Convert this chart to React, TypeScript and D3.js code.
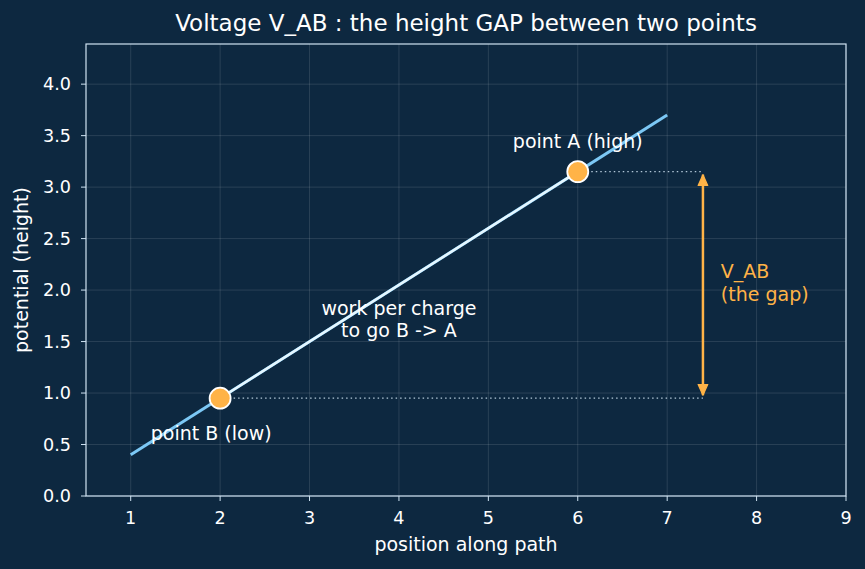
import React from 'react'
import * as d3 from 'd3'

// path of the potential line and the two marked points
const pathX = [1, 7]
const pathY = [0.4, 3.7]
const pointNames = ['B', 'A']
const pointX = [2, 6]
const pointY = [0.95, 3.15]
const gapX = 7.4
const xTicks = [1, 2, 3, 4, 5, 6, 7, 8, 9]
const yTicks = [0, 0.5, 1, 1.5, 2, 2.5, 3, 3.5, 4]

const W = 865
const H = 569
const margin = { top: 44, right: 19, bottom: 73, left: 86 }

const BG = '#0d2840'
const FG = '#ffffff'
const SPINE = '#cfe3f2'
const ORANGE = '#ffb347'
const BLUE = '#7cc8f5'
const FONT = "'DejaVu Sans', sans-serif"

const App = () => {
  const x = d3.scaleLinear().domain([0.5, 9]).range([margin.left, W - margin.right])
  const y = d3.scaleLinear().domain([0, 4.39]).range([H - margin.bottom, margin.top])
  const line = d3.line<[number, number]>().x((d) => x(d[0])).y((d) => y(d[1]))

  const full: [number, number][] = pathX.map((v, i) => [v, pathY[i]])
  const seg: [number, number][] = pointX.map((v, i) => [v, pointY[i]])

  const x0 = margin.left
  const x1 = W - margin.right
  const y0 = H - margin.bottom
  const y1 = margin.top

  return (
    <svg width={W} height={H} style={{ display: 'block', position: 'absolute', left: 0, top: 0 }} fontFamily={FONT}>
      <defs>
        <marker id="headW" viewBox="0 0 10 10" refX="9" refY="5" markerWidth="8" markerHeight="8" orient="auto" markerUnits="userSpaceOnUse">
          <path d="M1,1 L9,5 L1,9" fill="none" stroke="#e6f7ff" strokeWidth={1.6} />
        </marker>
        <marker id="headO" viewBox="0 0 10 10" refX="9" refY="5" markerWidth="13" markerHeight="12" orient="auto-start-reverse" markerUnits="userSpaceOnUse">
          <path d="M0,1 L9,5 L0,9 Z" fill={ORANGE} stroke={ORANGE} strokeWidth={1} strokeLinejoin="round" />
        </marker>
      </defs>
      <rect width={W} height={H} fill={BG} />

      {/* grid */}
      {xTicks.map((t) => (
        <line key={'gx' + t} x1={x(t)} x2={x(t)} y1={y0} y2={y1} stroke="#ffffff" strokeOpacity={0.15} strokeWidth={0.8} />
      ))}
      {yTicks.map((t) => (
        <line key={'gy' + t} x1={x0} x2={x1} y1={y(t)} y2={y(t)} stroke="#ffffff" strokeOpacity={0.15} strokeWidth={0.8} />
      ))}

      {/* full path */}
      <path d={line(full) || ''} fill="none" stroke={BLUE} strokeWidth={3} />
      {/* B -> A segment */}
      <path d={line(seg) || ''} fill="none" stroke="#e6f7ff" strokeWidth={2.5} markerEnd="url(#headW)" />

      {/* dotted level guides */}
      {pointY.map((v, i) => (
        <line key={'lv' + i} x1={x(pointX[i])} x2={x(gapX)} y1={y(v)} y2={y(v)} stroke={SPINE} strokeWidth={1.2} strokeDasharray="1.5 3" opacity={0.85} />
      ))}

      {/* gap arrow */}
      <line x1={x(gapX)} x2={x(gapX)} y1={y(pointY[0]) - 3} y2={y(pointY[1]) + 3} stroke={ORANGE} strokeWidth={2.5} markerStart="url(#headO)" markerEnd="url(#headO)" />

      {/* points */}
      {pointX.map((v, i) => (
        <circle key={pointNames[i]} cx={x(v)} cy={y(pointY[i])} r={10.5} fill={ORANGE} stroke="#ffffff" strokeWidth={1.8} />
      ))}

      {/* annotations */}
      <text x={x(6)} y={y(3.43)} fill={FG} fontSize={19} textAnchor="middle" dominantBaseline="middle">point A (high)</text>
      <text x={x(1.9)} y={y(0.6)} fill={FG} fontSize={19} textAnchor="middle" dominantBaseline="middle">point B (low)</text>
      <text x={x(4)} y={y(1.81)} fill={FG} fontSize={19} textAnchor="middle" dominantBaseline="middle">work per charge</text>
      <text x={x(4)} y={y(1.6)} fill={FG} fontSize={19} textAnchor="middle" dominantBaseline="middle">to go B -&gt; A</text>
      <text x={x(7.6)} y={y(2.17)} fill={ORANGE} fontSize={19} dominantBaseline="middle">V_AB</text>
      <text x={x(7.6)} y={y(1.95)} fill={ORANGE} fontSize={19} dominantBaseline="middle">(the gap)</text>

      {/* spines */}
      <rect x={x0} y={y1} width={x1 - x0} height={y0 - y1} fill="none" stroke={SPINE} strokeWidth={1.2} />

      {/* ticks */}
      {xTicks.map((t) => (
        <g key={'tx' + t}>
          <line x1={x(t)} x2={x(t)} y1={y0} y2={y0 + 5} stroke={SPINE} strokeWidth={1} />
          <text x={x(t)} y={524} fill={FG} fontSize={17.6} textAnchor="middle">{t}</text>
        </g>
      ))}
      {yTicks.map((t) => (
        <g key={'ty' + t}>
          <line x1={x0 - 5} x2={x0} y1={y(t)} y2={y(t)} stroke={SPINE} strokeWidth={1} />
          <text x={x0 - 15} y={y(t)} fill={FG} fontSize={17.6} textAnchor="end" dominantBaseline="central">{t.toFixed(1)}</text>
        </g>
      ))}

      {/* labels */}
      <text x={(x0 + x1) / 2} y={551} fill={FG} fontSize={19} textAnchor="middle">position along path</text>
      <text transform={`translate(28, ${(y0 + y1) / 2}) rotate(-90)`} fill={FG} fontSize={19} textAnchor="middle">potential (height)</text>
      <text x={(x0 + x1) / 2} y={31} fill={FG} fontSize={23} textAnchor="middle">Voltage V_AB : the height GAP between two points</text>
    </svg>
  )
}

export default App
